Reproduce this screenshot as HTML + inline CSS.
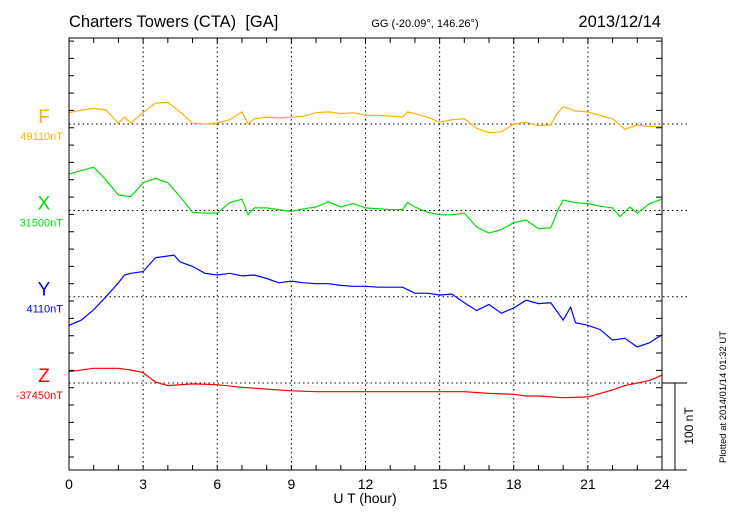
<!DOCTYPE html>
<html><head><meta charset="utf-8"><style>
body{margin:0;background:#fff;width:730px;height:520px;overflow:hidden}
text{font-family:"Liberation Sans",sans-serif}
</style></head><body>
<svg id="chart" width="730" height="520" xmlns="http://www.w3.org/2000/svg">
<text x="69" y="27" font-size="16.5" style="white-space:pre">Charters Towers (CTA)  [GA]</text>
<text x="425" y="27" font-size="11" text-anchor="middle">GG (-20.09°, 146.26°)</text>
<text x="661" y="27" font-size="16.5" text-anchor="end">2013/12/14</text>
<text x="365" y="503" font-size="14" text-anchor="middle">U T (hour)</text>
<text transform="translate(726,397) rotate(-90)" font-size="9.5" text-anchor="middle">Plotted at 2014/01/14 01:32 UT</text>
<g id="grid"></g><g id="series"></g><g id="axes"></g>
</svg>
<script>
const hours=[0,3,6,9,12,15,18,21,24];
const fTimes=[0,0.5,1,1.5,2,2.25,2.5,3,3.5,4,4.5,5,5.5,6,6.5,7,7.25,7.5,8,8.5,9,9.5,10,10.5,11,11.5,12,12.5,13,13.5,13.7,14,14.5,15,15.5,16,16.5,17,17.5,18,18.5,19,19.5,19.7,20,20.5,21,21.5,22,22.5,23,23.5,24];
const fValues=[13,16,18,16,1,8,1,13,24,25,14,1,0,1,5,14,0,6,8,7,8,9,13,14,12,13,10,10,9,8,14,12,8,2,5,6,-5,-10,-9,0,2,-2,-1,10,20,15,14,10,6,-6,-1,-3,-3];
const xTimes=[0,0.5,1,1.5,2,2.5,3,3.5,4,4.5,5,5.5,6,6.5,7,7.25,7.5,8,8.5,9,9.5,10,10.5,11,11.5,12,13,13.5,13.7,14,14.5,15,15.5,16,16.5,17,17.5,18,18.5,19,19.5,19.8,20,20.5,21,21.5,22,22.3,22.7,23,23.5,24];
const xValues=[42,46,50,35,18,16,32,37,32,16,-2,-3,-3,9,13,-5,3,3,1,-1,2,4,10,4,8,3,1,1,9,4,-2,-5,-5,-3,-19,-26,-22,-14,-11,-21,-20,1,12,9,8,5,3,-7,4,-3,8,13];
const yTimes=[0,0.5,1,1.5,2,2.25,2.5,3,3.5,4,4.25,4.5,5,5.5,6,6.5,7,7.5,8,8.5,9,9.5,10,10.5,11,11.5,12,12.5,13,13.5,14,14.5,15,15.5,16,16.5,17,17.5,18,18.5,19,19.5,20,20.3,20.5,21,21.5,22,22.5,23,23.5,24];
const yValues=[-33,-27,-15,0,16,25,27,29,45,47,48,40,35,27,25,27,24,25,21,16,18,16,15,15,13,12,12,11,11,11,4,4,2,3,-7,-16,-9,-19,-13,-4,-8,-7,-27,-12,-30,-33,-38,-50,-48,-58,-53,-44];
const zTimes=[0,1,2,2.5,3,3.5,4,5,6,7,8,9,10,11,12,13,14,15,16,17,18,18.5,19,20,21,21.5,22,22.5,23,23.5,24];
const zValues=[13,17,17,15,12,1,-3,-1,-2,-5,-7,-9,-10,-10,-10,-10,-10,-10,-10,-12,-13,-15,-15,-17,-16,-12,-8,-3,0,3,9];
const compNames=["F","X","Y","Z"];
const baseLabels=["49110nT","31500nT","4110nT","-37450nT"];
const colors=["#ffb000","#00e000","#0000ff","#ff0000"];
const baselines=[124,210.5,296.7,383];
const L=69,R=662,T=38,B=470,pxPerNT=0.867;
const NS="http://www.w3.org/2000/svg";
const xs=t=>L+(R-L)*t/24;
const ys=(v,i)=>baselines[i]-v*pxPerNT;
function mk(tag,attrs,parent){const e=document.createElementNS(NS,tag);for(const k in attrs)e.setAttribute(k,attrs[k]);document.getElementById(parent).appendChild(e);return e;}
hours.forEach(h=>{if(h>0&&h<24){const g=mk("line",{x1:xs(h),x2:xs(h),y1:T,y2:B,stroke:"#000","stroke-width":1,"stroke-dasharray":"1.5,3"},"grid");

}
const t=mk("text",{x:xs(h),y:489,"font-size":14,"text-anchor":"middle"},"axes");t.textContent=h;

});
baselines.forEach((b,i)=>{const g=mk("line",{x1:L,x2:687,y1:b,y2:b,stroke:"#000","stroke-width":1,"stroke-dasharray":"1.5,3"},"grid");


const n=mk("text",{x:44,y:b-1,"font-size":19,"text-anchor":"middle",fill:colors[i]},"axes");n.textContent=compNames[i];


const v=mk("text",{x:63,y:b+16,"font-size":11,"text-anchor":"end",fill:colors[i]},"axes");v.textContent=baseLabels[i];

});
[[fTimes,fValues],[xTimes,xValues],[yTimes,yValues],[zTimes,zValues]].forEach((s,i)=>{
const d=s[0].map((t,j)=>(j?"L":"M")+xs(t).toFixed(1)+","+ys(s[1][j],i).toFixed(1)).join("");
const p=mk("path",{d:d,fill:"none",stroke:colors[i],"stroke-width":1.2},"series");

});
const fr=mk("rect",{x:L,y:T,width:R-L,height:B-T,fill:"none",stroke:"#000","stroke-width":1},"axes");


let td="";
for(let h=0;h<=24;h++){const x=xs(h);td+=`M${x},${T}v5M${x},${B}v-5`;}
for(let y=T+3.1;y<B;y+=17.33){td+=`M${L},${y.toFixed(1)}h5M${R},${y.toFixed(1)}h-6`;}
td+=`M${R},383H687M${R},${B}H687M675,383V${B}`;
const tk=mk("path",{d:td,stroke:"#000","stroke-width":1,fill:"none"},"axes");


const sb=mk("text",{transform:"translate(693,426) rotate(-90)","font-size":12,"text-anchor":"middle"},"axes");sb.textContent="100 nT";


</script>
</body></html>
